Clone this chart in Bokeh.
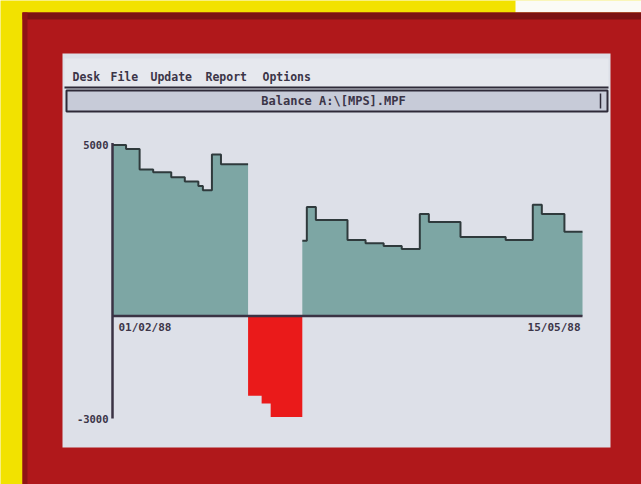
from bokeh.plotting import figure
from bokeh.models import Range1d
from bokeh.core.properties import value
from bokeh.embed import file_html
from bokeh.resources import INLINE

# ---------------- data ----------------
menu_items = ["Desk", "File", "Update", "Report", "Options"]
window_title = "Balance A:\\[MPS].MPF"
# day offsets from 01/02/88 at which the balance changes
step_days = [0, 3, 6, 9, 13, 16, 19, 20, 22, 24, 30, 33, 35, 42, 43, 45,
             52, 56, 60, 64, 68, 70, 77, 87, 93, 95, 100]
end_day = 104
balance = [5000, 4880, 4280, 4200, 4060, 3930, 3800, 3680, 4720, 4440,
           -2330, -2560, -2950, 2200, 3190, 2810, 2220, 2130, 2050, 1960,
           2980, 2750, 2310, 2220, 3250, 2980, 2460]
x_tick_days = [0, 104]
x_tick_labels = ["01/02/88", "15/05/88"]
y_tick_values = [5000, -3000]
y_tick_labels = ["5000", "-3000"]

# ---------------- layout ----------------
W, H = 641, 484
OFF = 0

p = figure(width=W, height=H, output_backend="svg", toolbar_location=None,
           x_axis_type=None, y_axis_type=None,
           x_range=Range1d(0, W), y_range=Range1d(H, 0),
           min_border=0, background_fill_color="#f2e200",
           border_fill_color="#f2e200", outline_line_color=None)

# data scales placed so the chart lands where the reference has it
x0_px, x1_px = 112 - OFF, 582 - OFF
zero_px = 315.5 - OFF
px_per_unit = 171.0 / 5000.0
px_per_day = (x1_px - x0_px) / (x_tick_days[1] - x_tick_days[0])
p.extra_x_ranges = {"days": Range1d(-x0_px / px_per_day, (W - x0_px) / px_per_day)}
p.extra_y_ranges = {"bal": Range1d((zero_px - H) / px_per_unit, zero_px / px_per_unit)}

def q(l, r, t, b, c, **kw):
    p.quad(left=[l - OFF], right=[r - OFF], top=[t - OFF], bottom=[b - OFF],
           fill_color=c, line_color=None, **kw)

# photo surroundings
q(515, 650, -10, 12, "#fbfbf6")          # white corner top-right
q(22, 650, 12, 500, "#b0181b")           # red monitor frame
q(22, 650, 12, 19, "#7c1214")            # dark top edge of frame
q(22, 27, 12, 500, "#8e1416")            # dark left edge
q(62, 610, 53, 447, "#dde0e8")           # screen
q(64, 608, 58, 86, "#e6e8ee")            # menu bar
# menu underline
p.segment(x0=[64 - OFF], y0=[87 - OFF], x1=[608 - OFF], y1=[87 - OFF],
          line_color="#2e2a38", line_width=2)
# title bar
p.quad(left=[66 - OFF], right=[607 - OFF], top=[90 - OFF], bottom=[111 - OFF],
       fill_color="#c7cbd8", line_color="#2e2a38", line_width=2)
p.segment(x0=[600 - OFF], y0=[93 - OFF], x1=[600 - OFF], y1=[108 - OFF],
          line_color="#2e2a38", line_width=1.5)

menu_x = [72, 110, 150, 205, 262]
p.text(x=[mx - OFF for mx in menu_x], y=[76 - OFF] * len(menu_items), text=menu_items,
       text_font=value("DejaVu Sans Mono"), text_font_size="11.5px",
       text_font_style="bold", text_color="#3b3548", text_baseline="middle")
p.text(x=[333 - OFF], y=[100 - OFF], text=[window_title],
       text_font=value("DejaVu Sans Mono"), text_font_size="12px",
       text_font_style="bold", text_color="#3b3548", text_baseline="middle",
       text_align="center")

# ---------------- chart ----------------
xs_step = step_days + [end_day]
pos = [max(v, 0) for v in balance]
neg = [min(v, 0) for v in balance]
p.varea_step(x=xs_step, y1=[0] * len(xs_step), y2=pos + [pos[-1]],
             step_mode="after", fill_color="#7da6a4",
             x_range_name="days", y_range_name="bal")
p.varea_step(x=xs_step, y1=[0] * len(xs_step), y2=neg + [neg[-1]],
             step_mode="after", fill_color="#ea1a1a",
             x_range_name="days", y_range_name="bal")

# dark top edge along each positive run
rights = step_days[1:] + [end_day]
xs, ys = [], []
cx, cy = [], []
for d0, d1, v in zip(step_days, rights, balance):
    if v > 0:
        cx += [d0, d1]
        cy += [v, v]
    else:
        if cx:
            xs.append(cx); ys.append(cy)
        cx, cy = [], []
if cx:
    xs.append(cx); ys.append(cy)
p.multi_line(xs=xs, ys=ys, line_color="#2f3a3c", line_width=2,
             x_range_name="days", y_range_name="bal")

# axes drawn by hand
p.segment(x0=[x_tick_days[0]], y0=[min(y_tick_values)], x1=[x_tick_days[0]],
          y1=[max(y_tick_values) + 60], line_color="#3a3344", line_width=2.5,
          x_range_name="days", y_range_name="bal")
p.segment(x0=[x_tick_days[0]], y0=[0], x1=[x_tick_days[1]], y1=[0],
          line_color="#3a3344", line_width=2.5,
          x_range_name="days", y_range_name="bal")

p.text(x=[x_tick_days[0]] * 2, y=y_tick_values, text=y_tick_labels,
       x_offset=-4, text_align="right", text_baseline="middle",
       text_font=value("DejaVu Sans Mono"), text_font_size="10.5px",
       text_font_style="bold", text_color="#3b3548",
       x_range_name="days", y_range_name="bal")
p.text(x=x_tick_days, y=[0, 0], text=x_tick_labels,
       x_offset=[6, -2], y_offset=5, text_align=["left", "right"],
       text_baseline="top",
       text_font=value("DejaVu Sans Mono"), text_font_size="11px",
       text_font_style="bold", text_color="#3b3548",
       x_range_name="days", y_range_name="bal")

open("out.html", "w").write(file_html(p, INLINE))
